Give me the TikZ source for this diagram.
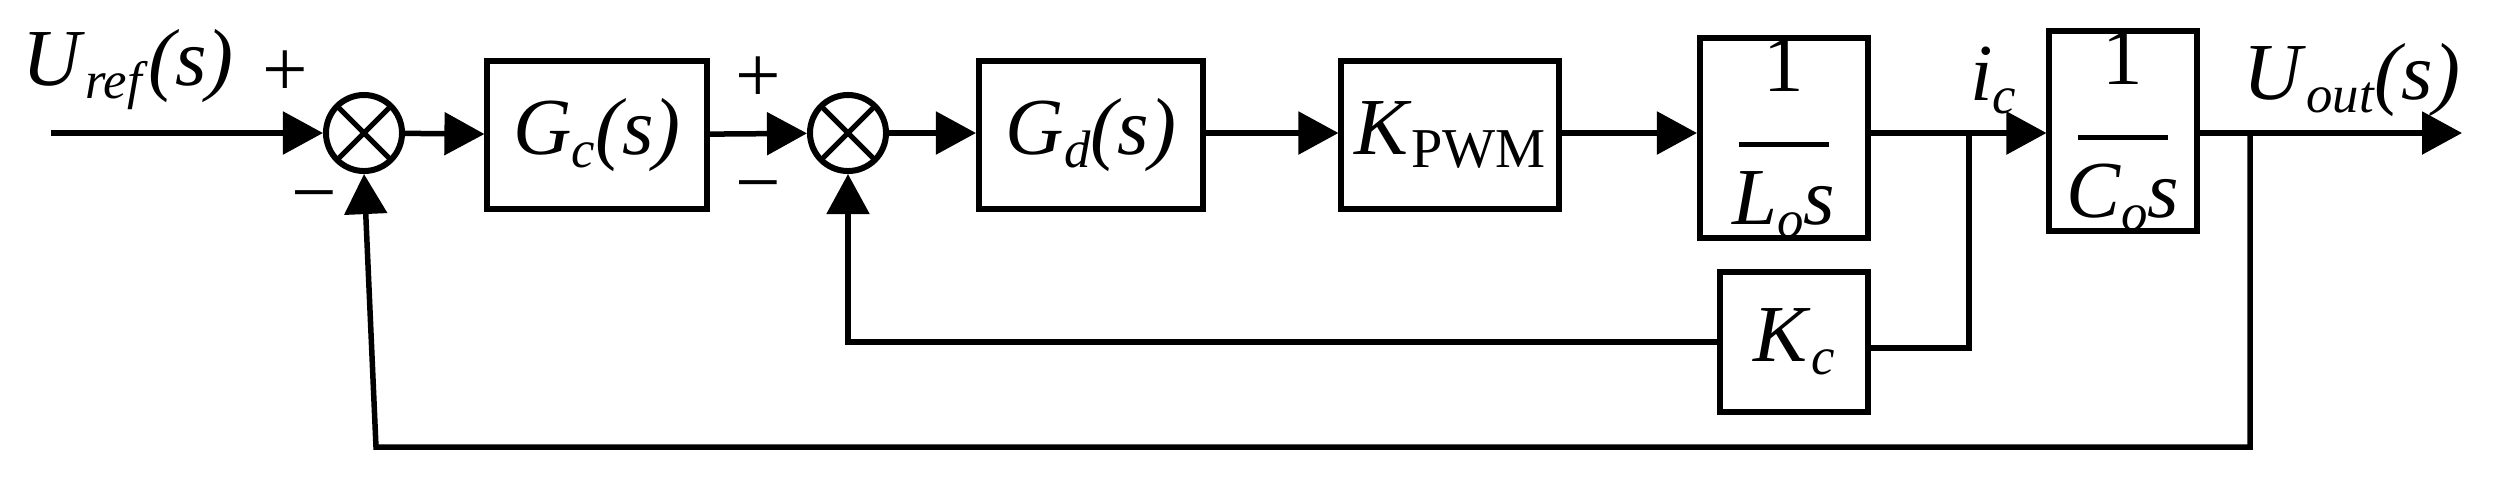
\documentclass[tikz,border=0pt]{standalone}
\usepackage{fontspec}
\setmainfont{Liberation Serif}
\usetikzlibrary{arrows.meta}
\newcommand{\itx}[1]{\textit{#1}}
\newcommand{\sbx}[1]{\raisebox{-0.35ex}{\fontsize{15}{16}\selectfont\textit{#1}}}
\begin{document}
\begin{tikzpicture}[x=0.01cm,y=-0.01cm,
  ln/.style={line width=0.055cm},
  ar/.style={ln,-{Triangle[length=0.4cm,width=0.42cm]}},
  blk/.style={draw,line width=0.06cm,minimum width=#1,inner sep=0pt},
  lab/.style={font=\fontsize{23}{26}\selectfont},
  sum/.style={draw,circle,line width=0.06cm,minimum size=0.76cm,inner sep=0pt,
    path picture={\draw[line width=0.05cm] (path picture bounding box.north west)--(path picture bounding box.south east)
    (path picture bounding box.north east)--(path picture bounding box.south west);}}]
\useasboundingbox (0,0) rectangle (2504,481);
\coordinate (in) at (51,133);
\node[sum] (s1) at (364,133) {};
\node[blk,minimum width=2.19cm,minimum height=1.48cm,lab] (gc) at (597,135) {\itx{G}\sbx{c}\itx{(s)}};
\node[sum] (s2) at (848,133) {};
\node[blk,minimum width=2.24cm,minimum height=1.48cm,lab] (gd) at (1091,135) {\itx{G}\sbx{d}\itx{(s)}};
\node[blk,minimum width=2.17cm,minimum height=1.48cm,lab] (kp) at (1450,135) {\itx{K}\raisebox{-0.35ex}{\fontsize{16}{16}\selectfont PWM}};
\node[blk,minimum width=1.68cm,minimum height=1.86cm,lab,align=center] (lo) at (1784,138) {1\\[-10pt]\rule{0.9cm}{1.5pt}\\[-4pt]\itx{L}\sbx{o}\itx{s}};
\node[blk,minimum width=1.47cm,minimum height=1.86cm,lab,align=center] (co) at (2123,131) {1\\[-10pt]\rule{0.9cm}{1.5pt}\\[-4pt]\itx{C}\sbx{o}\itx{s}};
\node[blk,minimum width=1.47cm,minimum height=1.40cm,lab] (kc) at (1794,342) {\itx{K}\sbx{c}};
\coordinate (br) at (1969,133);
\coordinate (bo) at (2250,133);
\coordinate (out) at (2462,133);
\draw[ar] (in) -- (s1);
\draw[ar] (s1) -- (gc);
\draw[ar] (gc) -- (s2);
\draw[ar] (s2) -- (gd.west|-s2);
\draw[ar] (gd.east|-s2) -- (kp.west|-s2);
\draw[ar] (kp.east|-s2) -- (lo.west|-s2);
\draw[ar] (lo.east|-s2) -- (co.west|-s2);
\draw[ar] (co.east|-s2) -- (out);
\draw[ln] (kc.east|-0,348) -| (br);
\draw[ar] (kc.west) -| (s2.south);
\draw[ar] (bo) |- (376,447) -- (s1.south);
\node[lab] (ur) at (128,70) {\itx{U}\sbx{ref}\itx{(s)}};
\node[lab] (p1) at (285,74) {+};
\node[lab] (m1) at (314,205) {\textminus};
\node[lab] (p2) at (758,80) {+};
\node[lab] (m2) at (758,195) {\textminus};
\node[lab] (ic) at (1993,80) {\itx{i}\sbx{c}};
\node[lab] (uo) at (2352,80) {\itx{U}\sbx{out}\itx{(s)}};
\end{tikzpicture}
\end{document}
